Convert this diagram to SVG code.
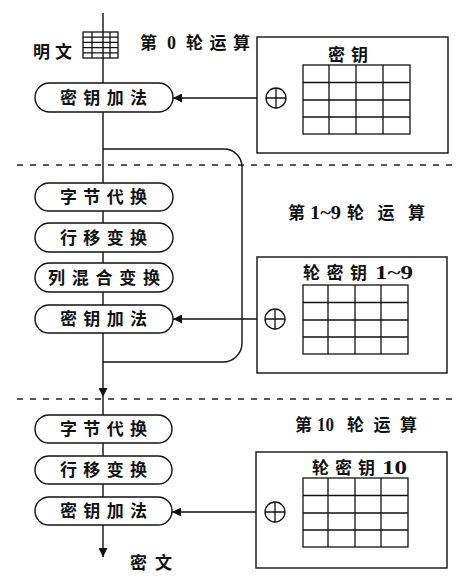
<svg xmlns="http://www.w3.org/2000/svg" width="474" height="580" viewBox="0 0 474 580">
<style>
.ln{fill:none;stroke:#111;stroke-width:1.4}
.pill{fill:#fff;stroke:#111;stroke-width:1.4}
.box{fill:#fff;stroke:#111;stroke-width:1.4}
.grid{fill:none;stroke:#111;stroke-width:1.3}
.dash{fill:none;stroke:#222;stroke-width:1.3;stroke-dasharray:6 7}
.t{font-family:"Noto Sans CJK SC",sans-serif;font-size:17px;font-weight:bold;fill:#111}
.n{font-family:"Liberation Serif",serif;font-size:18px;font-weight:bold;fill:#111}
</style>
<defs>
<marker id="ah" viewBox="0 0 10 10" refX="10" refY="5" markerWidth="9" markerHeight="9" markerUnits="userSpaceOnUse" orient="auto">
<path d="M0,0 L10,5 L0,10 z" fill="#111"/>
</marker>
</defs>
<rect width="474" height="580" fill="#fff"/>

<g id="dividers">
<line class="dash" x1="17" y1="165" x2="452" y2="165"/>
<line class="dash" x1="17" y1="399" x2="452" y2="399"/>
</g>

<g id="connectors">
<line class="ln" x1="103" y1="13" x2="103" y2="83"/>
<line class="ln" x1="103" y1="112" x2="103" y2="183"/>
<line class="ln" x1="103" y1="211" x2="103" y2="223"/>
<line class="ln" x1="103" y1="252" x2="103" y2="263"/>
<line class="ln" x1="103" y1="292" x2="103" y2="305"/>
<line class="ln" x1="103" y1="333" x2="103" y2="397" marker-end="url(#ah)"/>
<line class="ln" x1="103" y1="397" x2="103" y2="415"/>
<line class="ln" x1="103" y1="443" x2="103" y2="456"/>
<line class="ln" x1="103" y1="484" x2="103" y2="497"/>
<line class="ln" x1="103" y1="525" x2="103" y2="557" marker-end="url(#ah)"/>
<path class="ln" d="M103,149 H224 A18,18 0 0 1 242,167 V343 A19,19 0 0 1 223,362 H103"/>
<line class="ln" x1="257" y1="98" x2="173" y2="98" marker-end="url(#ah)"/>
<line class="ln" x1="257" y1="319" x2="173" y2="319" marker-end="url(#ah)"/>
<line class="ln" x1="256" y1="512" x2="172" y2="512" marker-end="url(#ah)"/>
</g>

<g id="plaintext">
<rect class="grid" x="83" y="32" width="35" height="26"/>
<path class="grid" d="M92,32 V58 M110,32 V58 M83,37.2 H118 M83,42.4 H118 M83,47.6 H118 M83,52.8 H118"/>
<text class="t" x="33" y="58" textLength="39" lengthAdjust="spacing">明文</text>
</g>

<g id="round0-label">
<text class="t" x="140" y="49">第</text>
<text class="n" x="167" y="49">0</text>
<text class="t" x="186" y="49" textLength="64" lengthAdjust="spacing">轮运算</text>
</g>

<g id="addkey0">
<rect class="pill" x="35" y="83" width="138" height="29" rx="14.5"/>
<text class="t" x="60" y="104" textLength="87" lengthAdjust="spacing">密钥加法</text>
</g>

<g id="key0">
<rect class="box" x="257" y="37" width="191" height="116"/>
<text class="t" x="328" y="61" textLength="40" lengthAdjust="spacing">密钥</text>
<rect class="grid" x="303" y="65" width="107" height="69"/>
<path class="grid" d="M329,65 V134 M356,65 V134 M383,65 V134 M303,82.5 H410 M303,100 H410 M303,117 H410"/>
<circle class="grid" cx="276" cy="98" r="10"/>
<path class="grid" d="M266,98 H286 M276,88 V108"/>
</g>

<g id="round19-label">
<text class="t" x="288" y="219">第</text>
<text class="n" x="310" y="219" textLength="31" lengthAdjust="spacingAndGlyphs">1~9</text>
<text class="t" x="347" y="219" textLength="78" lengthAdjust="spacing">轮运算</text>
</g>

<g id="subbytes1">
<rect class="pill" x="35" y="183" width="138" height="28" rx="14"/>
<text class="t" x="60" y="203" textLength="87" lengthAdjust="spacing">字节代换</text>
</g>
<g id="shiftrows1">
<rect class="pill" x="35" y="223" width="138" height="29" rx="14.5"/>
<text class="t" x="60" y="244" textLength="87" lengthAdjust="spacing">行移变换</text>
</g>
<g id="mixcolumns1">
<rect class="pill" x="35" y="263" width="138" height="29" rx="14.5"/>
<text class="t" x="48" y="284" textLength="112" lengthAdjust="spacing">列混合变换</text>
</g>
<g id="addkey1">
<rect class="pill" x="35" y="305" width="138" height="28" rx="14"/>
<text class="t" x="60" y="325" textLength="87" lengthAdjust="spacing">密钥加法</text>
</g>

<g id="key19">
<rect class="box" x="257" y="257" width="190" height="116"/>
<text class="t" x="303" y="279" textLength="64" lengthAdjust="spacing">轮密钥</text>
<text class="n" x="375" y="279" textLength="38" lengthAdjust="spacingAndGlyphs">1~9</text>
<rect class="grid" x="303" y="285" width="105" height="69"/>
<path class="grid" d="M328,285 V354 M355,285 V354 M381,285 V354 M303,302.5 H408 M303,320 H408 M303,337 H408"/>
<circle class="grid" cx="275" cy="319" r="10"/>
<path class="grid" d="M265,319 H285 M275,309 V329"/>
</g>

<g id="round10-label">
<text class="t" x="295" y="431">第</text>
<text class="n" x="317" y="431" textLength="17" lengthAdjust="spacingAndGlyphs">10</text>
<text class="t" x="347" y="431" textLength="70" lengthAdjust="spacing">轮运算</text>
</g>

<g id="subbytes10">
<rect class="pill" x="35" y="415" width="137" height="28" rx="14"/>
<text class="t" x="60" y="435" textLength="87" lengthAdjust="spacing">字节代换</text>
</g>
<g id="shiftrows10">
<rect class="pill" x="35" y="456" width="137" height="28" rx="14"/>
<text class="t" x="60" y="476" textLength="87" lengthAdjust="spacing">行移变换</text>
</g>
<g id="addkey10">
<rect class="pill" x="35" y="497" width="137" height="28" rx="14"/>
<text class="t" x="60" y="517" textLength="87" lengthAdjust="spacing">密钥加法</text>
</g>

<g id="key10">
<rect class="box" x="256" y="452" width="191" height="116"/>
<text class="t" x="312" y="474" textLength="63" lengthAdjust="spacing">轮密钥</text>
<text class="n" x="382" y="474" textLength="25" lengthAdjust="spacingAndGlyphs">10</text>
<rect class="grid" x="303" y="478" width="105" height="69"/>
<path class="grid" d="M328,478 V547 M355,478 V547 M381,478 V547 M303,495.5 H408 M303,513 H408 M303,530 H408"/>
<circle class="grid" cx="275" cy="512" r="10"/>
<path class="grid" d="M265,512 H285 M275,502 V522"/>
</g>

<g id="ciphertext"><text class="t" x="130" y="569" textLength="42" lengthAdjust="spacing">密文</text></g>
</svg>
